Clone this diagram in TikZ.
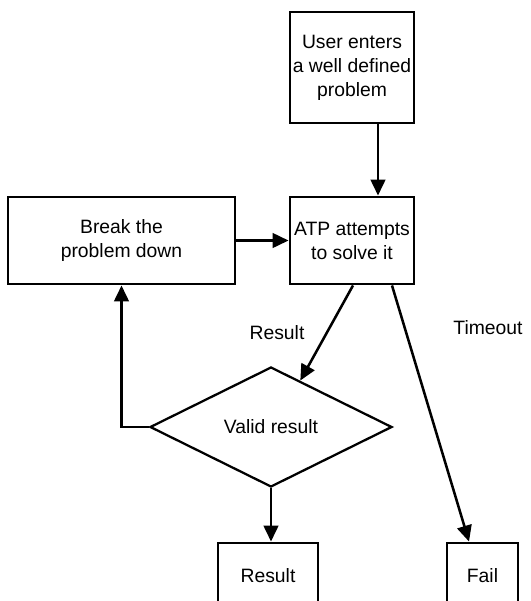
\documentclass[tikz,border=0pt]{standalone}
\usepackage{fontspec}
\setmainfont{Liberation Sans}
\usetikzlibrary{arrows.meta,shapes.geometric,calc}
\begin{document}
\begin{tikzpicture}[x=0.75pt,y=-0.75pt,
  every node/.style={font=\fontsize{14.5}{18}\selectfont},
  box/.style={draw,line width=2.2pt,align=center,inner sep=0pt},
  dec/.style={draw,shape=diamond,line width=1.7pt,inner sep=0pt,minimum width=181.5pt,minimum height=90pt},
  arr/.style={line width=1.9pt,-{Triangle[length=12pt,width=11pt]}},
  lbl/.style={inner sep=0pt}]
\clip (0,0) rectangle (531,601);
\fill[white] (0,0) rectangle (531,601);
\node[box,minimum width=93pt,minimum height=83.25pt] (top) at (352,67.5) {User enters\\a well defined\\problem};
\node[box,minimum width=93pt,minimum height=65.25pt] (atp) at (352,240.5) {ATP attempts\\to solve it};
\node[box,minimum width=170.25pt,minimum height=65.25pt] (brk) at (121.5,240.5) {Break the\\problem down};
\node[dec] (dia) at (271,427) {Valid result};
\node[box,minimum width=75pt,minimum height=49.5pt] (res) at (268,576) {Result};
\node[box,minimum width=53.25pt,minimum height=49.5pt] (fail) at (482.5,576) {Fail};
\node[lbl] (lres) at (277,333) {Result};
\node[lbl] (lto) at (488,328) {Timeout};
\draw[arr] ($(top.south)+(26,0)$) -- ($(atp.north)+(26,0)$);
\draw[arr] (brk.east) -- (brk.east -| atp.west);
\draw[arr] ($(atp.south)+(1,0)$) -- ($(dia.north)!0.24!(dia.east)$);
\draw[arr] ($(atp.south)+(40,0)$) -- ($(fail.north)+(-13.5,0)$);
\draw[arr] (dia.west) -| (brk.south);
\draw[arr] (dia.south) -- (dia.south |- res.north);
\end{tikzpicture}
\end{document}
